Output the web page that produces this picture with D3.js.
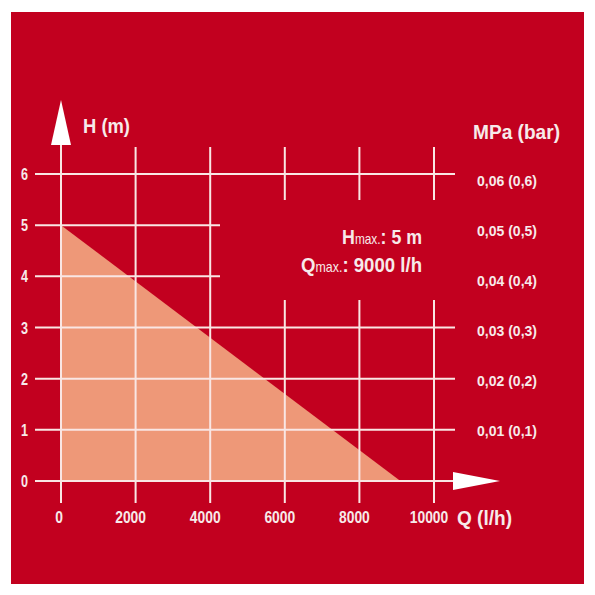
<!DOCTYPE html>
<html>
<head>
<meta charset="utf-8">
<script src="https://cdn.jsdelivr.net/npm/d3@7"></script>
<style>
  body { margin: 0; background: #fff; }
  text { font-family: "Liberation Sans", Arial, sans-serif; font-weight: bold; fill: #f7eaea; }
</style>
</head>
<body>
<div id="chart"></div>
<script>
let w = 595;
let h = 595;

// chart values
const flowTicks = [0, 2000, 4000, 6000, 8000, 10000];
const headTicks = [0, 1, 2, 3, 4, 5, 6];
const pressureBar = [0.1, 0.2, 0.3, 0.4, 0.5, 0.6];
const pressureLabels = ["0,01 (0,1)", "0,02 (0,2)", "0,03 (0,3)", "0,04 (0,4)", "0,05 (0,5)", "0,06 (0,6)"];
const curveQ = [0, 9100];
const curveH = [5, 0];

const red = "#c2001f";
const salmon = "#ee9878";
const line = "#f9e6e4";

// squeeze text to a condensed width
function condense(sel, width) {
  sel.attr("textLength", width).attr("lengthAdjust", "spacingAndGlyphs");
}

var svg = d3.select("#chart").append("svg").attr("width", w).attr("height", h);

svg.append("rect")
  .attr("x", 11).attr("y", 12)
  .attr("width", 573).attr("height", 572)
  .attr("fill", red);

// scales
var x = d3.scaleLinear().domain([0, 10000]).range([61, 434]);
var y = d3.scaleLinear().domain([0, 6]).range([481, 174]);
// pressure labels sit on their own slightly tighter scale
var p = d3.scaleLinear().domain([0, 0.6]).range([480, 180]);

// pump curve area
var area = d3.area()
  .x(d => x(d[0]))
  .y0(y(0))
  .y1(d => y(d[1]));
svg.append("path")
  .datum(curveQ.map((q, i) => [q, curveH[i]]))
  .attr("d", area)
  .attr("fill", salmon);

var grid = svg.append("g").attr("stroke", line).attr("stroke-width", 2);

// horizontal grid lines (4 and 5 stop short of the text box)
grid.selectAll("line.h")
  .data(headTicks)
  .enter()
  .append("line")
  .attr("class", "h")
  .attr("x1", 35)
  .attr("x2", d => (d === 4 || d === 5 ? 220 : 455))
  .attr("y1", d => y(d))
  .attr("y2", d => y(d));

// vertical grid lines, broken around the text box for 6000+
flowTicks.forEach(function (q) {
  if (q === 0) {
    grid.append("line").attr("x1", x(q)).attr("x2", x(q)).attr("y1", 503).attr("y2", 140);
  } else if (q < 6000) {
    grid.append("line").attr("x1", x(q)).attr("x2", x(q)).attr("y1", 503).attr("y2", 147);
  } else {
    grid.append("line").attr("x1", x(q)).attr("x2", x(q)).attr("y1", 147).attr("y2", 200);
    grid.append("line").attr("x1", x(q)).attr("x2", x(q)).attr("y1", 300).attr("y2", 503);
  }
});

// arrows
svg.append("path")
  .attr("d", `M${x(0) - 10},145 L${x(0)},100 L${x(0) + 10},145 Z`)
  .attr("fill", "#fff");
svg.append("path")
  .attr("d", `M453,${y(0) - 9} L500,${y(0)} L453,${y(0) + 9} Z`)
  .attr("fill", "#fff");

// left tick labels
svg.selectAll("text.yl")
  .data(headTicks)
  .enter()
  .append("text")
  .attr("class", "yl")
  .attr("x", 28)
  .attr("y", d => y(d) + 6)
  .attr("text-anchor", "end")
  .attr("font-size", 16)
  .text(d => d)
  .call(condense, 7);

// bottom tick labels
svg.selectAll("text.xl")
  .data(flowTicks)
  .enter()
  .append("text")
  .attr("class", "xl")
  .attr("x", d => x(d) - (d === 0 ? 2 : 5))
  .attr("y", 523)
  .attr("text-anchor", "middle")
  .attr("font-size", 16)
  .text(d => d)
  .each(function (d) { d3.select(this).call(condense, String(d).length * 7.7); });

// right pressure labels
svg.selectAll("text.pl")
  .data(pressureBar)
  .enter()
  .append("text")
  .attr("class", "pl")
  .attr("x", 477)
  .attr("y", d => p(d) + 5.5)
  .attr("font-size", 15.5)
  .text((d, i) => pressureLabels[i])
  .call(condense, 60);

// axis titles
svg.append("text").attr("x", 83).attr("y", 133).attr("font-size", 21).text("H (m)").call(condense, 47);
svg.append("text").attr("x", 473).attr("y", 139).attr("font-size", 20).text("MPa (bar)").call(condense, 87);
svg.append("text").attr("x", 457).attr("y", 525).attr("font-size", 21).text("Q (l/h)").call(condense, 55);

// max values: one text per line, squeezed horizontally to the reference width
function maxLine(yy, letter, rest, width) {
  var t = svg.append("text").attr("text-anchor", "end").attr("font-size", 21);
  t.append("tspan").text(letter);
  t.append("tspan").style("font-size", "14px").style("font-weight", "normal").text("max.");
  t.append("tspan").text(rest);
  var natural = t.node().getComputedTextLength();
  t.attr("transform", `translate(422,${yy}) scale(${width / natural},1)`);
}
maxLine(244, "H", ": 5 m", 80);
maxLine(272, "Q", ": 9000 l/h", 121);
</script>
</body>
</html>
